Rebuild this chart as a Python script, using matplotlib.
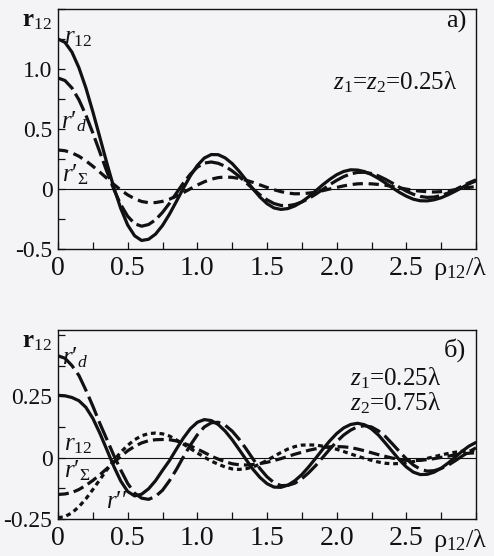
import numpy as np
import matplotlib
matplotlib.use("Agg")
import matplotlib.pyplot as plt
from matplotlib.ticker import MultipleLocator

plt.rcParams['font.family'] = ['Liberation Serif', 'DejaVu Serif']
plt.rcParams['mathtext.fontset'] = 'custom'
plt.rcParams['mathtext.rm'] = 'Liberation Serif'
plt.rcParams['mathtext.it'] = 'Liberation Serif:italic'
plt.rcParams['mathtext.bf'] = 'Liberation Serif:bold'
plt.rcParams['mathtext.fallback'] = 'stix'

# rho_12 / lambda grid, step 0.05
rho = np.linspace(0, 3, 61)

# panel a) z1 = z2 = 0.25 lambda
a_r12 = [1.250, 1.222, 1.141, 1.011, 0.843, 0.644, 0.432, 0.218, 0.015, -0.161,
         -0.300, -0.390, -0.429, -0.419, -0.376, -0.304, -0.210, -0.103, 0.007, 0.110,
         0.196, 0.258, 0.287, 0.286, 0.259, 0.212, 0.148, 0.075, 0.000, -0.068,
         -0.122, -0.158, -0.170, -0.163, -0.141, -0.107, -0.064, -0.015, 0.035, 0.080,
         0.119, 0.146, 0.160, 0.158, 0.145, 0.120, 0.088, 0.050, 0.010, -0.028,
         -0.060, -0.085, -0.098, -0.099, -0.090, -0.073, -0.048, -0.019, 0.012, 0.043,
         0.068]
a_rd = [0.925, 0.904, 0.842, 0.744, 0.616, 0.467, 0.308, 0.148, -0.001, -0.129,
        -0.227, -0.289, -0.310, -0.296, -0.257, -0.195, -0.119, -0.034, 0.050, 0.124,
        0.182, 0.216, 0.225, 0.214, 0.189, 0.151, 0.105, 0.053, 0.000, -0.049,
        -0.090, -0.121, -0.137, -0.139, -0.129, -0.108, -0.079, -0.043, -0.004, 0.036,
        0.072, 0.103, 0.126, 0.138, 0.139, 0.129, 0.109, 0.081, 0.049, 0.015,
        -0.018, -0.044, -0.062, -0.070, -0.067, -0.054, -0.033, -0.006, 0.024, 0.052,
        0.076]
a_rs = [0.325, 0.319, 0.301, 0.273, 0.235, 0.190, 0.141, 0.090, 0.039, -0.008,
        -0.049, -0.081, -0.104, -0.114, -0.113, -0.103, -0.085, -0.059, -0.030, 0.002,
        0.033, 0.060, 0.082, 0.095, 0.100, 0.097, 0.088, 0.073, 0.055, 0.034,
        0.013, -0.006, -0.022, -0.034, -0.040, -0.039, -0.034, -0.026, -0.014, 0.000,
        0.013, 0.026, 0.036, 0.043, 0.045, 0.043, 0.038, 0.031, 0.021, 0.010,
        -0.001, -0.011, -0.018, -0.023, -0.025, -0.022, -0.015, -0.006, 0.004, 0.013,
        0.020]

# panel b) z1 = 0.25 lambda, z2 = 0.75 lambda
b_r12 = [0.254, 0.252, 0.245, 0.232, 0.205, 0.160, 0.100, 0.033, -0.035, -0.095,
         -0.138, -0.156, -0.149, -0.127, -0.094, -0.052, -0.012, 0.035, 0.080, 0.118,
         0.144, 0.155, 0.151, 0.135, 0.108, 0.073, 0.033, -0.008, -0.048, -0.081,
         -0.106, -0.120, -0.121, -0.112, -0.094, -0.069, -0.037, -0.002, 0.034, 0.068,
         0.098, 0.121, 0.135, 0.140, 0.134, 0.117, 0.092, 0.059, 0.025, -0.009,
         -0.038, -0.059, -0.069, -0.068, -0.059, -0.043, -0.022, 0.002, 0.026, 0.047,
         0.062]
b_rd = [0.415, 0.405, 0.375, 0.335, 0.275, 0.210, 0.140, 0.075, 0.010, -0.050,
        -0.105, -0.145, -0.165, -0.170, -0.158, -0.133, -0.094, -0.048, 0.003, 0.051,
        0.093, 0.125, 0.142, 0.144, 0.132, 0.108, 0.075, 0.036, -0.006, -0.045,
        -0.078, -0.102, -0.114, -0.113, -0.104, -0.086, -0.061, -0.032, 0.001, 0.034,
        0.065, 0.092, 0.112, 0.126, 0.130, 0.125, 0.109, 0.086, 0.056, 0.025,
        -0.005, -0.030, -0.047, -0.055, -0.053, -0.044, -0.031, -0.013, 0.006, 0.024,
        0.040]
b_rs = [-0.150, -0.148, -0.142, -0.130, -0.113, -0.093, -0.070, -0.045, -0.020, 0.005,
        0.028, 0.046, 0.060, 0.069, 0.073, 0.074, 0.073, 0.068, 0.059, 0.048,
        0.035, 0.021, 0.006, -0.006, -0.017, -0.025, -0.029, -0.030, -0.028, -0.024,
        -0.019, -0.012, -0.004, 0.005, 0.014, 0.022, 0.030, 0.036, 0.041, 0.044,
        0.045, 0.044, 0.041, 0.035, 0.028, 0.020, 0.012, 0.005, -0.002, -0.007,
        -0.011, -0.012, -0.011, -0.008, -0.004, 0.001, 0.006, 0.011, 0.015, 0.018,
        0.020]
b_rpp = [-0.245, -0.240, -0.225, -0.200, -0.168, -0.130, -0.090, -0.050, -0.012, 0.022,
         0.050, 0.073, 0.089, 0.098, 0.100, 0.097, 0.088, 0.072, 0.055, 0.037,
         0.019, 0.002, -0.014, -0.027, -0.038, -0.046, -0.048, -0.045, -0.038, -0.026,
         -0.011, 0.005, 0.021, 0.035, 0.045, 0.051, 0.052, 0.051, 0.047, 0.041,
         0.034, 0.025, 0.015, 0.006, -0.003, -0.011, -0.018, -0.023, -0.025, -0.024,
         -0.021, -0.016, -0.010, -0.003, 0.004, 0.011, 0.017, 0.022, 0.026, 0.028,
         0.030]

a_yticks = [-0.5, -0.25, 0, 0.25, 0.5, 0.75, 1.0, 1.25, 1.5]
a_ylabels = ['-0.5', '', '0', '', '0.5', '', '1.0', '', '']
b_yticks = [-0.25, -0.125, 0, 0.125, 0.25, 0.375, 0.5]
b_ylabels = ['-0.25', '', '0', '', '0.25', '', '']
xticks = [0, 0.5, 1.0, 1.5, 2.0, 2.5]
xlabels = ['0', '0.5', '1.0', '1.5', '2.0', '2.5']

W, H = 494, 556
bg = '#f4f4f6'
ink = '#111111'
serif = ['Liberation Serif', 'DejaVu Serif']


def px(x, y):
    return x / W, 1 - y / H


def label(x, y, s, **kw):
    fig.text(*px(x, y), s, fontsize=kw.pop('fontsize', 18), color=ink,
             ha=kw.pop('ha', 'left'), va=kw.pop('va', 'center'), zorder=5, **kw)


fig = plt.figure(figsize=(W / 100, H / 100), dpi=100, facecolor=bg)

ax1 = fig.add_axes([58 / W, 1 - 249 / H, 418 / W, 240 / H], facecolor=bg)
ax2 = fig.add_axes([58 / W, 1 - 519 / H, 418 / W, 189 / H], facecolor=bg)

lw = 2.3
ax1.plot(rho, a_r12, color=ink, lw=lw, solid_capstyle='round')
ax1.plot(rho, a_rd, color=ink, lw=lw, dashes=(6, 1.6))
ax1.plot(rho, a_rs, color=ink, lw=lw, dashes=(3.2, 1.8))
ax1.set_ylim(-0.5, 1.5)
ax1.set_yticks(a_yticks)
ax1.set_yticklabels(a_ylabels)

ax2.plot(rho, b_r12, color=ink, lw=lw, solid_capstyle='round')
ax2.plot(rho, b_rd, color=ink, lw=lw, dashes=(6.5, 1.8))
ax2.plot(rho, b_rs, color=ink, lw=lw, dashes=(3.4, 1.6))
ax2.plot(rho, b_rpp, color=ink, lw=lw, dashes=(1.5, 1.2))
ax2.set_ylim(-0.25, 0.52)
ax2.set_yticks(b_yticks)
ax2.set_yticklabels(b_ylabels)

for ax in (ax1, ax2):
    ax.axhline(0, color=ink, lw=0.8)
    ax.set_xlim(0, 3)
    ax.set_xticks(xticks)
    ax.set_xticklabels(xlabels)
    ax.xaxis.set_minor_locator(MultipleLocator(0.25))
    ax.tick_params(axis='x', which='both', direction='in', length=5, width=0.9,
                   top=False, labelsize=20, pad=5, colors=ink)
    ax.tick_params(axis='y', which='both', direction='in', length=5, width=0.9,
                   right=False, labelsize=17, pad=4, colors=ink)
    for lab in ax.get_xticklabels() + ax.get_yticklabels():
        lab.set_fontfamily(serif)
    for s in ax.spines.values():
        s.set_linewidth(1.0)
        s.set_color(ink)

# axis names
label(52, 10, r'$\mathbf{r}_{12}$', ha='right', va='top')
label(52, 331, r'$\mathbf{r}_{12}$', ha='right', va='top')
label(433, 268, r'$\mathrm{\rho}_{12}/\mathrm{\lambda}$', fontsize=19)
label(433, 541, r'$\mathrm{\rho}_{12}/\mathrm{\lambda}$', fontsize=19)

# panel a labels
label(466, 21, 'a)', fontsize=19, ha='right')
label(333, 82, r'$z_1$=$z_2$=0.25λ')
label(64, 38, r'$r_{12}$')
label(61, 122, '$r$′$_d$')
label(62, 175, '$r$′$_\\Sigma$')

# panel b labels
label(466, 350, 'б)', fontsize=19, ha='right')
label(350, 378, r'$z_1$=0.25λ')
label(350, 403, r'$z_2$=0.75λ')
label(62, 358, '$r$′$_d$')
label(64, 445, r'$r_{12}$')
label(64, 471, '$r$′$_\\Sigma$')
label(106, 502, '$r$′′')

fig.savefig('out.png', dpi=100, facecolor=bg)
